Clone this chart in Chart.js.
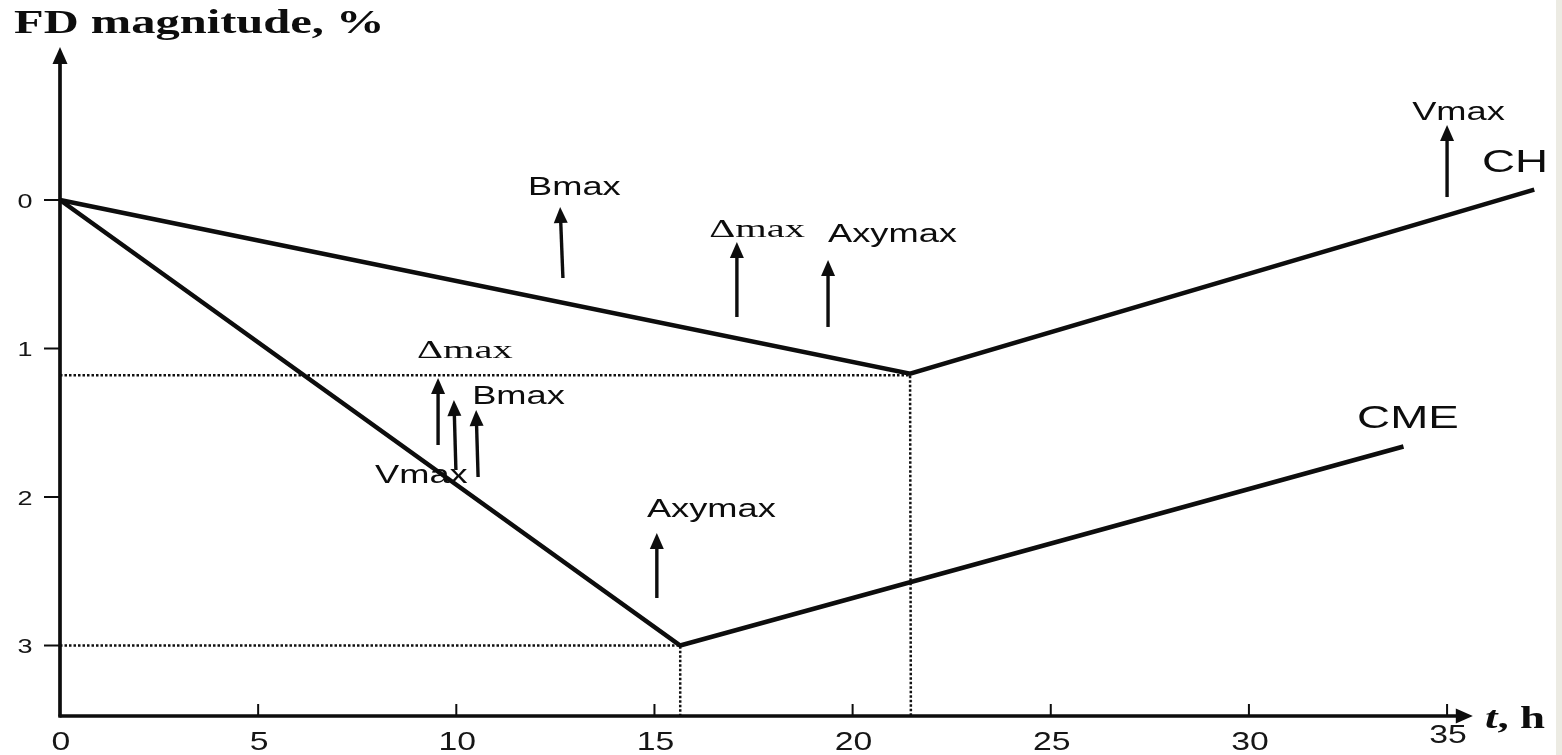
<!DOCTYPE html>
<html>
<head>
<meta charset="utf-8">
<script src="https://cdn.jsdelivr.net/npm/chart.js@4/dist/chart.umd.min.js"></script>
<style>
  html, body { margin: 0; padding: 0; background: #ffffff; }
  #wrap { position: relative; width: 1562px; height: 755px; }
  canvas { display: block; }
</style>
</head>
<body>
<div id="wrap"><canvas id="c" width="1562" height="755"></canvas></div>
<script>
// ---- data (time in hours, FD magnitude in %) ----
const chT   = [0, 21.45, 37.2];
const chFD  = [0, 1.17, -0.07];
const cmeT  = [0, 15.65, 33.9];
const cmeFD = [0, 3.0, 1.66];

const xTicks = [0, 5, 10, 15, 20, 25, 30, 35];
const yTicks = [0, 1, 2, 3];

// event-marker arrows (time, FD at base, FD at tip)
const arrowNames  = ['Bmax', 'Δmax', 'Axymax', 'Vmax', 'Δmax', 'Vmax', 'Bmax', 'Axymax'];
const arrowBaseT  = [12.69, 17.08, 19.38, 35.0, 9.54, 9.99, 10.55, 15.06];
const arrowTipT   = [12.62, 17.08, 19.38, 35.0, 9.54, 9.94, 10.50, 15.06];
const arrowBaseFD = [0.525, 0.788, 0.855, -0.02, 1.650, 1.818, 1.865, 2.680];
const arrowTipFD  = [0.047, 0.283, 0.404, -0.505, 1.199, 1.347, 1.414, 2.242];

// marker label anchors (left edge time, baseline FD)
const labelT  = [11.81, 16.38, 19.38, 34.12, 9.01, 7.95, 10.40, 14.81];
const labelFD = [-0.034, 0.249, 0.283, -0.539, 1.064, 1.906, 1.374, 2.135];

// curve names and their anchors
const seriesNames = ['CH', 'CME'];
const seriesLabelT  = [35.88, 32.73];
const seriesLabelFD = [-0.189, 1.535];

// axis extents
const X_MIN = 0, X_MAX = 37.90, X_ARROW = 35.65;
const Y_TOP = -1.3468, Y_BOTTOM = 3.4747, Y_ARROW = -1.03;

const INK = '#0d0d0d';
const SX = 1.45; // horizontal stretch of the original figure's lettering

function pts(xs, ys) { return xs.map((x, i) => ({ x: x, y: ys[i] })); }

function stretchedText(ctx, text, x, y, font, sx, align) {
  ctx.save();
  ctx.font = font;
  ctx.textBaseline = 'alphabetic';
  ctx.textAlign = 'left';
  const w = ctx.measureText(text).width * sx;
  const left = align === 'center' ? x - w / 2 : (align === 'right' ? x - w : x);
  ctx.translate(left, y);
  ctx.scale(sx, 1);
  ctx.fillText(text, 0, 0);
  ctx.restore();
  return w;
}

function arrow(ctx, x0, y0, x1, y1, headLen, halfW, lw) {
  const dx = x1 - x0, dy = y1 - y0;
  const L = Math.hypot(dx, dy);
  const ux = dx / L, uy = dy / L;
  const bx = x1 - ux * headLen, by = y1 - uy * headLen;
  ctx.save();
  ctx.strokeStyle = INK; ctx.fillStyle = INK;
  ctx.lineWidth = lw; ctx.lineCap = 'butt';
  ctx.beginPath(); ctx.moveTo(x0, y0); ctx.lineTo(bx + ux, by + uy); ctx.stroke();
  ctx.beginPath();
  ctx.moveTo(x1, y1);
  ctx.lineTo(bx - uy * halfW, by + ux * halfW);
  ctx.lineTo(bx + uy * halfW, by - ux * halfW);
  ctx.closePath(); ctx.fill();
  ctx.restore();
}

const iCH = chFD.indexOf(Math.max(...chFD));
const iCME = cmeFD.indexOf(Math.max(...cmeFD));

const decor = {
  id: 'decor',
  beforeDraw(chart) {
    const ctx = chart.ctx;
    ctx.save();
    ctx.fillStyle = '#ffffff';
    ctx.fillRect(0, 0, chart.width, chart.height);
    ctx.fillStyle = '#ecebe3';
    ctx.fillRect(1556, 0, chart.width - 1556, chart.height);
    ctx.restore();
  },
  afterDatasetsDraw(chart) {
    const ctx = chart.ctx;
    const xs = chart.scales.x, ys = chart.scales.y;
    const px = v => xs.getPixelForValue(v);
    const py = v => ys.getPixelForValue(v);
    const x0 = px(0), yb = py(Y_BOTTOM);

    // axes with arrowheads
    ctx.save();
    ctx.strokeStyle = INK; ctx.lineWidth = 3.2;
    ctx.beginPath(); ctx.moveTo(x0, yb + 1.6); ctx.lineTo(x0, py(Y_ARROW) + 12); ctx.stroke();
    ctx.beginPath(); ctx.moveTo(x0 - 1.6, yb); ctx.lineTo(px(X_ARROW) - 12, yb); ctx.stroke();
    ctx.restore();
    arrow(ctx, x0, yb, x0, py(Y_ARROW), 17, 7.5, 3.2);
    arrow(ctx, x0, yb, px(X_ARROW), yb, 17, 7.5, 3.2);

    // tick marks
    ctx.save();
    ctx.strokeStyle = INK; ctx.lineWidth = 2;
    yTicks.forEach(v => { ctx.beginPath(); ctx.moveTo(x0 - 16, py(v)); ctx.lineTo(x0, py(v)); ctx.stroke(); });
    xTicks.filter(v => v > 0).forEach(v => { ctx.beginPath(); ctx.moveTo(px(v), yb); ctx.lineTo(px(v), yb - 12); ctx.stroke(); });
    ctx.restore();

    // tick labels
    ctx.save();
    ctx.fillStyle = '#161616';
    yTicks.forEach(v => stretchedText(ctx, String(v), 25, py(v) + 7.5, '20px "Liberation Sans"', 1.35, 'center'));
    xTicks.forEach(v => {
      const base = v === 35 ? yb + 27 : yb + 34;
      stretchedText(ctx, String(v), px(v) + 1, base, '25px "Liberation Sans"', 1.35, 'center');
    });
    ctx.restore();

    // axis titles
    ctx.save();
    ctx.fillStyle = INK;
    stretchedText(ctx, 'FD magnitude, %', 14, 33, 'bold 33px "Liberation Serif"', 1.47, 'left');
    let w = stretchedText(ctx, 't', 1485, yb + 12, 'italic bold 31px "Liberation Serif"', SX, 'left');
    stretchedText(ctx, ', h', 1485 + w, yb + 12, 'bold 31px "Liberation Serif"', SX, 'left');
    ctx.restore();

    // event arrows
    arrowNames.forEach((n, i) => {
      arrow(ctx, px(arrowBaseT[i]), py(arrowBaseFD[i]), px(arrowTipT[i]), py(arrowTipFD[i]), 16, 7, 3.4);
    });

    // event labels
    ctx.save();
    ctx.fillStyle = INK;
    arrowNames.forEach((n, i) => {
      if (n.startsWith('Δ')) {
        stretchedText(ctx, n, px(labelT[i]), py(labelFD[i]), '25px "Liberation Serif"', 1.62, 'left');
      } else {
        stretchedText(ctx, n, px(labelT[i]), py(labelFD[i]), '25px "Liberation Sans"', SX, 'left');
      }
    });
    seriesNames.forEach((n, i) => {
      stretchedText(ctx, n, px(seriesLabelT[i]), py(seriesLabelFD[i]), '32px "Liberation Sans"', 1.43, 'left');
    });
    ctx.restore();
  }
};

const curveStyle = { showLine: true, borderColor: INK, borderWidth: 4.5, pointRadius: 0, tension: 0, fill: false, clip: false, borderJoinStyle: 'miter' };
const guideStyle = { showLine: true, borderColor: '#111111', borderWidth: 2.5, borderDash: [2.5, 2], pointRadius: 0, tension: 0, fill: false, clip: false };

new Chart(document.getElementById('c'), {
  type: 'scatter',
  data: {
    datasets: [
      Object.assign({ label: 'CH', data: pts(chT, chFD) }, curveStyle),
      Object.assign({ label: 'CME', data: pts(cmeT, cmeFD) }, curveStyle),
      Object.assign({ label: 'CH min', data: [
        { x: 0, y: chFD[iCH] + 0.01 }, { x: chT[iCH], y: chFD[iCH] + 0.01 }, { x: chT[iCH] + 0.02, y: Y_BOTTOM }
      ] }, guideStyle),
      Object.assign({ label: 'CME min', data: [
        { x: 0, y: cmeFD[iCME] }, { x: cmeT[iCME], y: cmeFD[iCME] }, { x: cmeT[iCME], y: Y_BOTTOM }
      ] }, guideStyle)
    ]
  },
  options: {
    responsive: false,
    animation: false,
    devicePixelRatio: 1,
    layout: { padding: { left: 60, right: 0, top: 0, bottom: 39 } },
    plugins: { legend: { display: false }, tooltip: { enabled: false }, title: { display: false } },
    scales: {
      x: { type: 'linear', min: X_MIN, max: X_MAX, display: false },
      y: { type: 'linear', min: Y_TOP, max: Y_BOTTOM, reverse: true, display: false }
    }
  },
  plugins: [decor]
});
</script>
</body>
</html>
